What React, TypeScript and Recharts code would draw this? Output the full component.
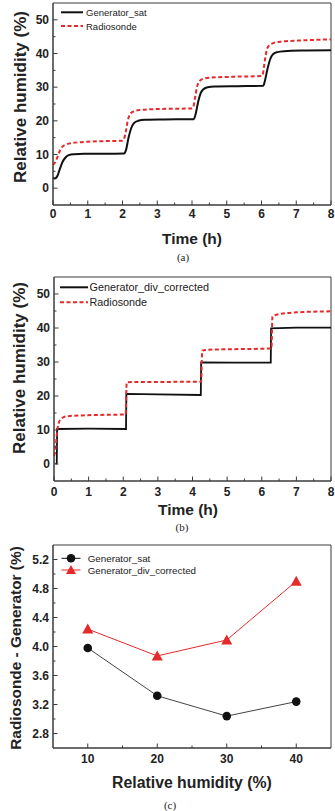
import React from 'react';
import {
  LineChart,
  Line,
  XAxis,
  YAxis,
  ReferenceArea,
  Label,
  Customized,
} from 'recharts';

// (a) saturation generator vs radiosonde, smooth step response
const satCurveA: [number, number][] = [
  [0, 3.0], [0.05, 2.9], [0.12, 3.5], [0.2, 5.8], [0.28, 7.9], [0.36, 9.1], [0.45, 9.8],
  [0.6, 10.1], [0.9, 10.2], [1.5, 10.2], [2.05, 10.3], [2.1, 11.3], [2.17, 14.8],
  [2.25, 17.8], [2.33, 19.3], [2.45, 20.0], [2.65, 20.3], [3.2, 20.4], [4.05, 20.5],
  [4.1, 21.8], [4.17, 25.3], [4.25, 28.2], [4.33, 29.4], [4.45, 30.0], [4.65, 30.2],
  [5.3, 30.3], [6.05, 30.4], [6.1, 32.0], [6.17, 35.3], [6.25, 38.3], [6.33, 39.8],
  [6.45, 40.4], [6.65, 40.7], [7.3, 40.9], [8, 41.0],
];
const sondeCurveA: [number, number][] = [
  [0, 6.9], [0.06, 7.6], [0.13, 9.3], [0.2, 11.2], [0.28, 12.4], [0.38, 13.0], [0.55, 13.4],
  [1.0, 13.8], [1.6, 14.0], [2.0, 14.1], [2.04, 14.5], [2.09, 16.5], [2.15, 20.0],
  [2.22, 22.0], [2.32, 22.8], [2.5, 23.2], [3.0, 23.5], [3.6, 23.6], [4.0, 23.7],
  [4.04, 24.2], [4.09, 27.0], [4.15, 30.3], [4.22, 31.8], [4.32, 32.5], [4.5, 32.8],
  [5.2, 33.1], [6.0, 33.3], [6.04, 34.0], [6.09, 37.5], [6.15, 41.0], [6.22, 42.4],
  [6.32, 43.0], [6.55, 43.5], [7.2, 43.9], [8, 44.2],
];

// (b) divided-flow generator (corrected) vs radiosonde, sharp steps
const divCurveB: [number, number][] = [
  [0.05, 0], [0.08, 0.3], [0.09, 10.3], [1.0, 10.4], [2.08, 10.3], [2.09, 20.6],
  [3.0, 20.5], [4.24, 20.3], [4.25, 29.9], [5.2, 29.8], [6.26, 29.8], [6.27, 39.9],
  [7.0, 40.1], [8, 40.1],
];
const sondeCurveB: [number, number][] = [
  [0.0, 2.4], [0.04, 4.0], [0.08, 8.5], [0.12, 11.5], [0.2, 13.2], [0.35, 14.0],
  [0.8, 14.3], [2.07, 14.6], [2.1, 24.0], [2.3, 24.1], [4.25, 24.2], [4.28, 33.3],
  [4.45, 33.6], [6.28, 34.0], [6.31, 43.4], [6.5, 44.1], [7.0, 44.6], [8, 44.9],
];

// (c) mean offset per RH level
const rhLevels = [10, 20, 30, 40];
const diffSat = [3.98, 3.32, 3.04, 3.24];
const diffDiv = [4.24, 3.87, 4.09, 4.9];

const timeTicks = [0, 0.5, 1, 1.5, 2, 2.5, 3, 3.5, 4, 4.5, 5, 5.5, 6, 6.5, 7, 7.5, 8];
const timeMajor = [0, 1, 2, 3, 4, 5, 6, 7, 8];
const rhTicks = [0, 5, 10, 15, 20, 25, 30, 35, 40, 45, 50];
const rhMajor = [0, 10, 20, 30, 40, 50];
const levelTicks = [10, 15, 20, 25, 30, 35, 40];
const levelMajor = [10, 20, 30, 40];
const diffTicks = [2.8, 3.0, 3.2, 3.4, 3.6, 3.8, 4.0, 4.2, 4.4, 4.6, 4.8, 5.0, 5.2];
const diffMajor = [2.8, 3.2, 3.6, 4.0, 4.4, 4.8, 5.2];

const SANS = '"Liberation Sans", Arial, sans-serif';
const SERIF = '"Liberation Serif", "Times New Roman", serif';
const FRAME = '#3a3a3a';
const RED = '#e42a2a';
const INK = '#222';

const toPoints = (pts: [number, number][]) => pts.map(([x, y]) => ({ x, y }));
const zip = (xs: number[], ys: number[]) => xs.map((x, i) => ({ x, y: ys[i] }));

// inward tick marks, labels only on the major ones
const xTick = (majors: number[], dy: number, fmt = (v: number) => String(v)) => (props: any) => {
  const { x, y, payload } = props;
  const major = majors.includes(payload.value);
  return (
    <g>
      <line x1={x} x2={x} y1={y} y2={y - (major ? 4.5 : 2.5)} stroke={FRAME} strokeWidth={1} />
      {major && (
        <text x={x} y={y + dy} textAnchor="middle" fontFamily={SANS} fontWeight="bold" fontSize={12} fill={INK}>
          {fmt(payload.value)}
        </text>
      )}
    </g>
  );
};

const yTick = (majors: number[], fmt = (v: number) => String(v)) => (props: any) => {
  const { x, y, payload } = props;
  const major = majors.includes(payload.value);
  return (
    <g>
      <line x1={x} x2={x + (major ? 4.5 : 2.5)} y1={y} y2={y} stroke={FRAME} strokeWidth={1} />
      {major && (
        <text x={x - 4} y={y + 4.3} textAnchor="end" fontFamily={SANS} fontWeight="bold" fontSize={12} fill={INK}>
          {fmt(payload.value)}
        </text>
      )}
    </g>
  );
};

const xTitle = (text: string, cx: number, cy: number, size: number) => () => (
  <text x={cx} y={cy} textAnchor="middle" dominantBaseline="central" fontFamily={SANS} fontWeight="bold" fontSize={size} fill={INK}>
    {text}
  </text>
);

const yTitle = (text: string, cx: number, cy: number, size: number) => () => (
  <text
    x={cx}
    y={cy}
    transform={`rotate(-90 ${cx} ${cy})`}
    textAnchor="middle"
    dominantBaseline="central"
    fontFamily={SANS}
    fontWeight="bold"
    fontSize={size}
    fill={INK}
  >
    {text}
  </text>
);

const Caption = ({ text, x, y }: { text: string; x: number; y: number }) => (
  <text x={x} y={y} textAnchor="middle" dominantBaseline="central" fontFamily={SERIF} fontSize={11} fill={INK}>
    {text}
  </text>
);

type LegendRow = { label: string; color: string; dash?: string; width: number; marker?: 'circle' | 'triangle' };

const LegendBox = ({ rows, x0, x1, tx, ys, size }: { rows: LegendRow[]; x0: number; x1: number; tx: number; ys: number[]; size: number }) => (
  <g>
    {rows.map((r, i) => {
      const mx = (x0 + x1) / 2;
      const y = ys[i];
      return (
        <g key={r.label}>
          <line x1={x0} x2={x1} y1={y} y2={y} stroke={r.color} strokeWidth={r.width} strokeDasharray={r.dash} />
          {r.marker === 'circle' && <circle cx={mx} cy={y} r={4.3} fill={r.color} />}
          {r.marker === 'triangle' && (
            <polygon points={`${mx},${y - 5} ${mx - 5},${y + 4} ${mx + 5},${y + 4}`} fill={r.color} />
          )}
          <text x={tx} y={y} dominantBaseline="central" fontFamily={SANS} fontSize={size} fill={INK}>
            {r.label}
          </text>
        </g>
      );
    })}
  </g>
);

const TriangleDot = (props: any) => {
  const { cx, cy } = props;
  if (cx == null || cy == null) return <g />;
  return <polygon points={`${cx},${cy - 5.5} ${cx - 5.5},${cy + 4.5} ${cx + 5.5},${cy + 4.5}`} fill={RED} />;
};

const PanelA = () => (
  <LineChart width={335} height={270} margin={{ top: 3, right: 4, bottom: 0, left: 0 }}>
    <XAxis
      dataKey="x"
      type="number"
      domain={[0, 8]}
      ticks={timeTicks}
      interval={0}
      height={65}
      tickSize={0}
      tickMargin={0}
      tickLine={false}
      stroke={FRAME}
      tick={xTick(timeMajor, 13)}
    >
      <Label content={xTitle('Time (h)', 192, 238, 15.5)} />
    </XAxis>
    <YAxis
      type="number"
      domain={[-5, 55]}
      ticks={rhTicks}
      interval={0}
      width={53}
      tickSize={0}
      tickMargin={0}
      tickLine={false}
      stroke={FRAME}
      tick={yTick(rhMajor)}
    >
      <Label content={yTitle('Relative humidity (%)', 20, 97, 17)} />
    </YAxis>
    <ReferenceArea x1={0} x2={8} y1={-5} y2={55} fill="none" stroke={FRAME} strokeWidth={1} ifOverflow="extendDomain" />
    <Line data={toPoints(satCurveA)} dataKey="y" type="monotone" stroke="#111" strokeWidth={2} dot={false} isAnimationActive={false} />
    <Line data={toPoints(sondeCurveA)} dataKey="y" type="monotone" stroke={RED} strokeWidth={2} strokeDasharray="4 2.5" dot={false} isAnimationActive={false} />
    <Customized
      component={() => (
        <g>
          <LegendBox
            rows={[
              { label: 'Generator_sat', color: '#111', width: 2 },
              { label: 'Radiosonde', color: RED, width: 2, dash: '4 2.5' },
            ]}
            x0={61}
            x1={83}
            tx={86}
            ys={[12.3, 26]}
            size={9.5}
          />
          <Caption text="(a)" x={183} y={257} />
        </g>
      )}
    />
  </LineChart>
);

const PanelB = () => (
  <LineChart width={335} height={270} margin={{ top: 7, right: 4, bottom: 0, left: 0 }}>
    <XAxis
      dataKey="x"
      type="number"
      domain={[0, 8]}
      ticks={timeTicks}
      interval={0}
      height={59}
      tickSize={0}
      tickMargin={0}
      tickLine={false}
      stroke={FRAME}
      tick={xTick(timeMajor, 14.5)}
    >
      <Label content={xTitle('Time (h)', 188, 239, 15.5)} />
    </XAxis>
    <YAxis
      type="number"
      domain={[-5, 55]}
      ticks={rhTicks}
      interval={0}
      width={54}
      tickSize={0}
      tickMargin={0}
      tickLine={false}
      stroke={FRAME}
      tick={yTick(rhMajor)}
    >
      <Label content={yTitle('Relative humidity (%)', 19, 98, 17)} />
    </YAxis>
    <ReferenceArea x1={0} x2={8} y1={-5} y2={55} fill="none" stroke={FRAME} strokeWidth={1} ifOverflow="extendDomain" />
    <Line data={toPoints(divCurveB)} dataKey="y" type="linear" stroke="#111" strokeWidth={1.8} dot={false} isAnimationActive={false} />
    <Line data={toPoints(sondeCurveB)} dataKey="y" type="monotone" stroke={RED} strokeWidth={2} strokeDasharray="4 2.5" dot={false} isAnimationActive={false} />
    <Customized
      component={() => (
        <g>
          <LegendBox
            rows={[
              { label: 'Generator_div_corrected', color: '#111', width: 2 },
              { label: 'Radiosonde', color: RED, width: 2, dash: '4 2.5' },
            ]}
            x0={60}
            x1={88}
            tx={89.5}
            ys={[17.3, 32.3]}
            size={10.8}
          />
          <Caption text="(b)" x={182} y={257} />
        </g>
      )}
    />
  </LineChart>
);

const PanelC = () => (
  <LineChart width={335} height={271} margin={{ top: 5, right: 4, bottom: 0, left: 0 }}>
    <XAxis
      dataKey="x"
      type="number"
      domain={[5, 45]}
      ticks={levelTicks}
      interval={0}
      height={63}
      tickSize={0}
      tickMargin={0}
      tickLine={false}
      stroke={FRAME}
      tick={xTick(levelMajor, 15)}
    >
      <Label content={xTitle('Relative humidity (%)', 192, 242, 15.8)} />
    </XAxis>
    <YAxis
      type="number"
      domain={[2.6, 5.4]}
      ticks={diffTicks}
      interval={0}
      width={53}
      tickSize={0}
      tickMargin={0}
      tickLine={false}
      stroke={FRAME}
      tick={yTick(diffMajor, (v) => v.toFixed(1))}
    >
      <Label content={yTitle('Radiosonde - Generator (%)', 15, 108, 15.4)} />
    </YAxis>
    <ReferenceArea x1={5} x2={45} y1={2.6} y2={5.4} fill="none" stroke={FRAME} strokeWidth={1} ifOverflow="extendDomain" />
    <Line
      data={zip(rhLevels, diffSat)}
      dataKey="y"
      type="linear"
      stroke="#444"
      strokeWidth={1}
      dot={{ r: 4.3, fill: '#111', stroke: '#111', strokeWidth: 0 }}
      isAnimationActive={false}
    />
    <Line
      data={zip(rhLevels, diffDiv)}
      dataKey="y"
      type="linear"
      stroke={RED}
      strokeWidth={1}
      dot={<TriangleDot />}
      isAnimationActive={false}
    />
    <Customized
      component={() => (
        <g>
          <LegendBox
            rows={[
              { label: 'Generator_sat', color: '#111', width: 1, marker: 'circle' },
              { label: 'Generator_div_corrected', color: RED, width: 1, marker: 'triangle' },
            ]}
            x0={61.5}
            x1={80.5}
            tx={87.7}
            ys={[18.3, 30]}
            size={9.8}
          />
          <Caption text="(c)" x={170} y={265} />
        </g>
      )}
    />
  </LineChart>
);

export default function App() {
  return (
    <div style={{ position: 'absolute', left: 0, top: 0, width: 335, height: 811, background: '#fff' }}>
      <div style={{ position: 'absolute', left: 0, top: 0 }}>
        <PanelA />
      </div>
      <div style={{ position: 'absolute', left: 0, top: 270 }}>
        <PanelB />
      </div>
      <div style={{ position: 'absolute', left: 0, top: 540 }}>
        <PanelC />
      </div>
    </div>
  );
}
